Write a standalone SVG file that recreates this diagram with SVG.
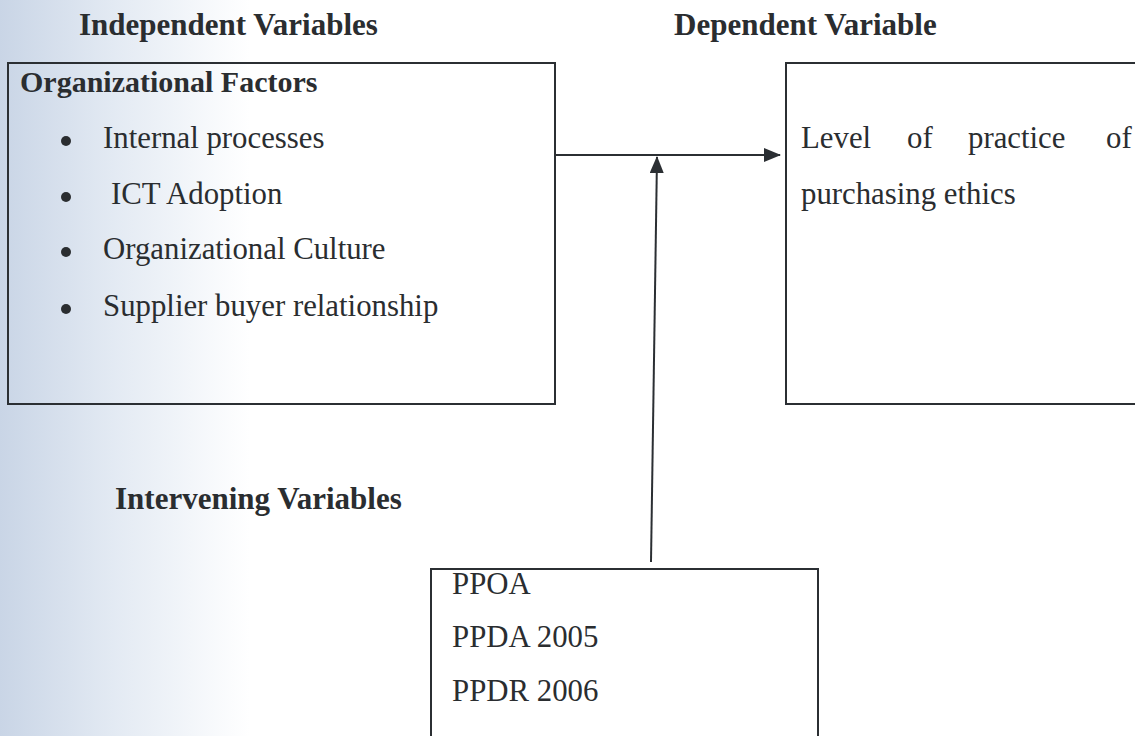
<svg xmlns="http://www.w3.org/2000/svg" width="1135" height="736" viewBox="0 0 1135 736">
<defs>
<linearGradient id="scan" x1="0" y1="0" x2="1" y2="0">
<stop offset="0" stop-color="#c9d5e6"/>
<stop offset="0.1" stop-color="#e3eaf3"/>
<stop offset="0.22" stop-color="#ffffff"/>
<stop offset="1" stop-color="#ffffff"/>
</linearGradient>
<marker id="arr" viewBox="0 0 17 14" refX="16" refY="7" markerWidth="17" markerHeight="14" markerUnits="userSpaceOnUse" orient="auto">
<path d="M0,0 L17,7 L0,14 Z" fill="#2b2f33"/>
</marker>
<style>
.box{fill:none;stroke:#2b2f33;stroke-width:2}
.h{font-family:"Liberation Serif","Times New Roman",serif;font-weight:bold;font-size:31px;fill:#2a2d30}
.hs{font-size:30px}
.t{font-family:"Liberation Serif","Times New Roman",serif;font-size:30.8px;fill:#2a2d30}
.b{fill:#2a2d30}
.con{fill:none;stroke:#2b2f33;stroke-width:2}
</style>
</defs>
<rect x="0" y="0" width="1135" height="736" fill="url(#scan)"/>
<g id="headings">
<text class="h" x="79" y="35">Independent Variables</text>
<text class="h" x="674" y="35">Dependent Variable</text>
<text class="h" x="115" y="509">Intervening Variables</text>
</g>
<g id="independent">
<rect class="box" x="8" y="63" width="547" height="341"/>
<text class="h hs" x="20" y="92">Organizational Factors</text>
<circle class="b" cx="66" cy="141" r="5"/>
<circle class="b" cx="66" cy="197" r="5"/>
<circle class="b" cx="66" cy="252" r="5"/>
<circle class="b" cx="66" cy="309" r="5"/>
<text class="t" x="103" y="148">Internal processes</text>
<text class="t" x="111" y="204">ICT Adoption</text>
<text class="t" x="103" y="259">Organizational Culture</text>
<text class="t" x="103" y="316">Supplier buyer relationship</text>
</g>
<g id="dependent">
<rect class="box" x="786" y="63" width="360" height="341"/>
<text class="t" x="801" y="148">Level</text>
<text class="t" x="907" y="148">of</text>
<text class="t" x="968" y="148">practice</text>
<text class="t" x="1106" y="148">of</text>
<text class="t" x="801" y="204">purchasing ethics</text>
</g>
<g id="intervening">
<rect class="box" x="431" y="569" width="387" height="185"/>
<text class="t" x="452" y="594">PPOA</text>
<text class="t" x="452" y="647">PPDA 2005</text>
<text class="t" x="452" y="701">PPDR 2006</text>
</g>
<g id="connectors">
<line class="con" x1="651" y1="562" x2="657" y2="157" marker-end="url(#arr)"/>
<line class="con" x1="556" y1="155" x2="780" y2="155" marker-end="url(#arr)"/>
</g>
</svg>
